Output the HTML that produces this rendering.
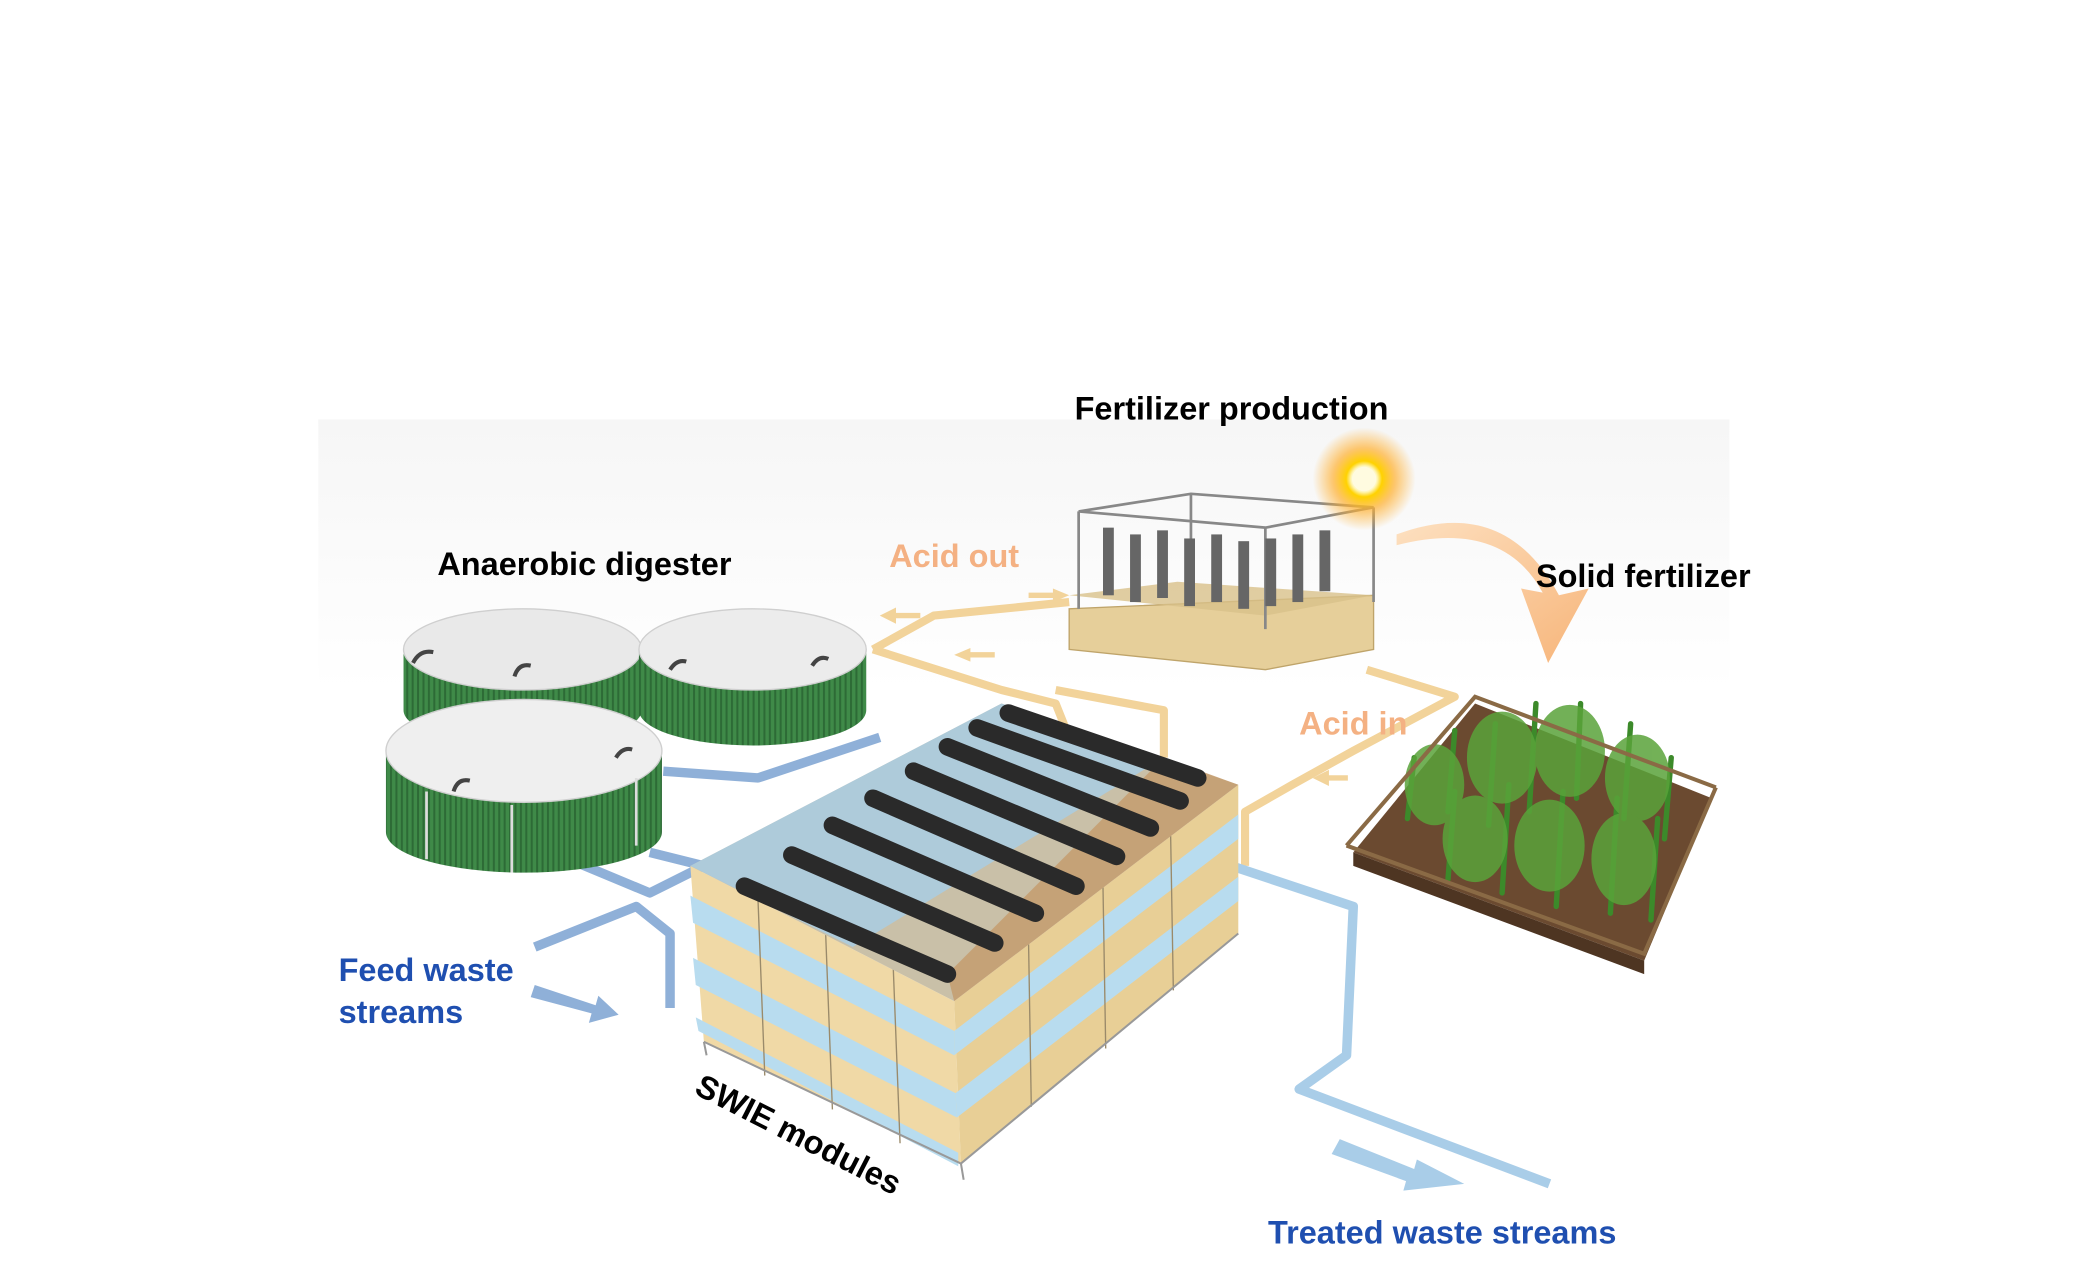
<!DOCTYPE html>
<html><head><meta charset="utf-8"><style>
html,body{margin:0;padding:0;background:#fff}
svg{display:block}
text{font-family:"Liberation Sans",Arial,sans-serif;font-weight:bold}
</style></head><body>
<svg width="2091" height="1265" viewBox="0 0 1545 935" xmlns="http://www.w3.org/2000/svg">
<defs>
<linearGradient id="bg" x1="0" y1="0" x2="0" y2="1"><stop offset="0" stop-color="#f6f6f6"/><stop offset="1" stop-color="#ffffff"/></linearGradient>
<radialGradient id="sun"><stop offset="0.25" stop-color="#fff7c0"/><stop offset="0.35" stop-color="#ffd200"/><stop offset="0.6" stop-color="#ffb030" stop-opacity="0.7"/><stop offset="1" stop-color="#ffb030" stop-opacity="0"/></radialGradient>
<linearGradient id="arc" x1="0" y1="0" x2="1" y2="1"><stop offset="0" stop-color="#fde0c0"/><stop offset="1" stop-color="#f7b57a"/></linearGradient>
<pattern id="stripes" width="4" height="10" patternUnits="userSpaceOnUse"><rect width="4" height="10" fill="#3f8a48"/><rect width="1.5" height="10" fill="#2d6b36"/></pattern>
</defs>
<rect x="235" y="310" width="1043" height="200" fill="url(#bg)"/>

<g fill="none" stroke="#f2d39a" stroke-width="6" stroke-linejoin="round">
<polyline points="645,480 740,510 780,520 790,545"/>
<polyline points="645,480 690,455 790,445"/>
<polyline points="1010,495 1075,515 1000,555 955,580 920,600 920,640"/>
<polyline points="780,510 860,525 860,560"/>
</g>
<g fill="none" stroke="#8fb0d8" stroke-width="7" stroke-linejoin="round">
<polyline points="490,570 560,575 650,545"/>
<polyline points="420,635 480,660 520,640 480,630"/>
<polyline points="395,700 470,670 495,690 495,745"/>
</g>
<g fill="none" stroke="#a9cde8" stroke-width="7" stroke-linejoin="round">
<polyline points="880,630 1000,670 995,780 960,805 1145,875"/>
</g>

<g>
<path d="M298,480 v45 a88,26 0 0 0 176,0 v-45z" fill="url(#stripes)"/>
<ellipse cx="386" cy="480" rx="88" ry="30" fill="#e9e9e9" stroke="#cfcfcf"/>
<path d="M472,480 v45 a84,26 0 0 0 168,0 v-45z" fill="url(#stripes)"/>
<ellipse cx="556" cy="480" rx="84" ry="30" fill="#ececec" stroke="#cfcfcf"/>
<path d="M285,555 v60 a102,30 0 0 0 204,0 v-60z" fill="url(#stripes)"/>
<ellipse cx="387" cy="555" rx="102" ry="38" fill="#efefef" stroke="#cfcfcf"/>
<g stroke="#444" stroke-width="3" fill="none">
<path d="M305,490 q5,-10 15,-8"/><path d="M380,500 q3,-10 12,-8"/><path d="M600,492 q5,-8 12,-5"/><path d="M495,495 q5,-8 12,-6"/><path d="M335,585 q3,-10 12,-8"/><path d="M455,560 q5,-8 12,-6"/>
</g>
<g stroke="#ddd" stroke-width="2"><line x1="315" y1="585" x2="315" y2="635"/><line x1="378" y1="595" x2="378" y2="645"/><line x1="470" y1="575" x2="470" y2="625"/></g>
</g>

<polygon points="790,450 1015,440 1015,480 935,495 790,480" fill="#e6cf9a" stroke="#bfa46a"/>
<polygon points="790,440 870,430 1015,440 935,455" fill="#d8c089" opacity="0.8"/>
<g stroke="#888" stroke-width="2" fill="none">
<polygon points="797,378 880,365 1015,375 935,390"/>
<line x1="797" y1="378" x2="797" y2="450"/><line x1="935" y1="390" x2="935" y2="465"/><line x1="1015" y1="375" x2="1015" y2="445"/><line x1="880" y1="365" x2="880" y2="430"/>
</g>
<g fill="#666">
<rect x="815" y="390" width="8" height="50"/><rect x="835" y="395" width="8" height="50"/><rect x="855" y="392" width="8" height="50"/><rect x="875" y="398" width="8" height="50"/><rect x="895" y="395" width="8" height="50"/><rect x="915" y="400" width="8" height="50"/><rect x="935" y="398" width="8" height="50"/><rect x="955" y="395" width="8" height="50"/><rect x="975" y="392" width="8" height="45"/>
</g>

<circle cx="1008" cy="354" r="38" fill="url(#sun)"/>
<circle cx="1008" cy="354" r="9" fill="#fffbe0"/>
<path d="M1032,395 q80,-30 120,45 l22,-5 l-30,55 l-20,-55 l16,3 q-30,-55 -108,-35z" fill="url(#arc)"/>

<polygon points="1000,630 1090,520 1265,590 1215,710" fill="#6b4a30"/>
<polygon points="1000,630 1215,710 1215,720 1000,640" fill="#4e3522"/>
<g stroke="#3c8a2a" stroke-width="4" stroke-linecap="round">
<line x1="1040" y1="605" x2="1045" y2="560"/><line x1="1070" y1="600" x2="1075" y2="540"/><line x1="1100" y1="610" x2="1105" y2="535"/><line x1="1130" y1="600" x2="1135" y2="520"/><line x1="1165" y1="590" x2="1168" y2="520"/><line x1="1200" y1="605" x2="1205" y2="535"/><line x1="1230" y1="620" x2="1235" y2="560"/>
<line x1="1070" y1="650" x2="1075" y2="585"/><line x1="1110" y1="660" x2="1115" y2="580"/><line x1="1150" y1="670" x2="1155" y2="585"/><line x1="1190" y1="675" x2="1195" y2="590"/><line x1="1220" y1="680" x2="1225" y2="605"/>
</g>
<g fill="#5aa33a" opacity="0.85">
<ellipse cx="1060" cy="580" rx="22" ry="30"/><ellipse cx="1110" cy="560" rx="26" ry="34"/><ellipse cx="1160" cy="555" rx="26" ry="34"/><ellipse cx="1210" cy="575" rx="24" ry="32"/><ellipse cx="1090" cy="620" rx="24" ry="32"/><ellipse cx="1145" cy="625" rx="26" ry="34"/><ellipse cx="1200" cy="635" rx="24" ry="34"/>
</g>
<g stroke="#8a6a45" stroke-width="3" fill="none"><polyline points="995,625 1090,515 1268,582"/><polyline points="995,625 1215,705 1268,582"/></g>

<polygon points="510,640 705,740 710,860 520,770" fill="#f0d9a6"/>
<polygon points="705,740 915,580 915,690 710,860" fill="#e8cf96"/>
<g fill="#b8dcef">
<polygon points="510,662 705,762 705,780 512,682"/><polygon points="512,708 706,808 707,826 514,728"/><polygon points="514,752 708,852 708,862 516,762"/>
<polygon points="705,762 915,602 915,620 705,780"/><polygon points="706,808 915,648 915,666 707,826"/>
</g>
<g stroke="#9a8a6a" stroke-width="1">
<line x1="560" y1="665" x2="565" y2="795"/><line x1="610" y1="690" x2="615" y2="820"/><line x1="660" y1="716" x2="665" y2="845"/>
<line x1="760" y1="698" x2="762" y2="818"/><line x1="815" y1="656" x2="817" y2="775"/><line x1="865" y1="618" x2="867" y2="732"/>
</g>
<polygon points="510,640 740,520 915,580 705,740" fill="#c9c0a8"/>
<polygon points="510,640 740,520 860,560 630,700" fill="#a8cde6" opacity="0.8"/>
<polygon points="700,720 860,560 915,580 705,740" fill="#c49a6a" opacity="0.8"/>
<g stroke="#2a2a2a" stroke-width="13" stroke-linecap="round">
<line x1="550" y1="655" x2="700" y2="720"/><line x1="585" y1="632" x2="735" y2="697"/><line x1="615" y1="610" x2="765" y2="675"/><line x1="645" y1="590" x2="795" y2="655"/><line x1="675" y1="570" x2="825" y2="633"/><line x1="700" y1="552" x2="850" y2="612"/><line x1="722" y1="538" x2="872" y2="592"/><line x1="745" y1="527" x2="885" y2="575"/>
</g>
<g stroke="#999" stroke-width="1.5" fill="none"><polyline points="520,770 710,860 915,690"/><line x1="710" y1="860" x2="712" y2="872"/><line x1="520" y1="770" x2="522" y2="780"/></g>

<path d="M395,728 l45,15 l2,-7 l15,14 l-22,6 l2,-7 l-45,-12z" fill="#8fb0d8"/>
<path d="M990,842 l55,22 l2,-7 l35,18 l-45,5 l2,-7 l-55,-20z" fill="#a9cde8"/>
<g fill="#f2d39a"><path d="M650,455 l12,-6 v4 h18 v4 h-18 v4z"/><path d="M790,440 l-12,-5 v3 h-18 v4 h18 v3z"/><path d="M705,484 l12,-5 v3 h18 v4 h-18 v3z"/><path d="M970,575 l12,-6 v4 h14 v4 h-14 v4z"/></g>

<text x="910" y="310" font-size="24" text-anchor="middle" fill="#000">Fertilizer production</text>
<text x="323" y="425" font-size="24" fill="#000">Anaerobic digester</text>
<text x="1135" y="434" font-size="24" fill="#000">Solid fertilizer</text>
<text x="657" y="419" font-size="24" fill="#f4b183">Acid out</text>
<text x="960" y="543" font-size="24" fill="#f4b183">Acid in</text>
<text x="250" y="725" font-size="24" fill="#1f4fb0">Feed waste</text>
<text x="250" y="756" font-size="24" fill="#1f4fb0">streams</text>
<text x="937" y="919" font-size="24" fill="#1f4fb0">Treated waste streams</text>
<text x="512" y="808" font-size="24" fill="#000" transform="rotate(27 512 808)">SWIE modules</text>
</svg>
</body></html>
